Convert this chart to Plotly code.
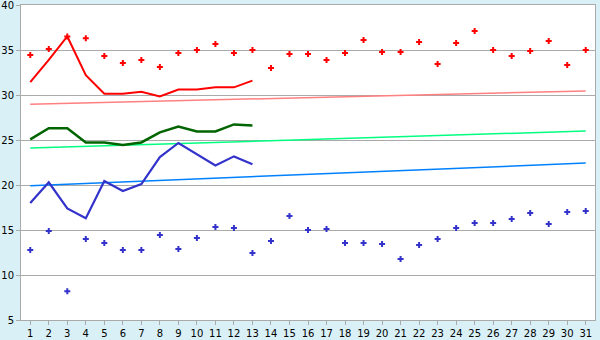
import plotly.graph_objects as go

days = list(range(1, 32))

red_pts = [34.44, 35.1, 36.5, 36.3, 34.33, 33.55, 33.9, 33.1, 34.67, 35.0,
           35.67, 34.67, 35.0, 33.0, 34.55, 34.55, 33.9, 34.67, 36.1, 34.78,
           34.78, 35.89, 33.44, 35.78, 37.1, 35.0, 34.33, 34.89, 36.0, 33.33, 35.0]
blue_pts = [12.78, 14.9, 8.2, 14.0, 13.55, 12.78, 12.78, 14.44, 12.89, 14.11,
            15.33, 15.22, 12.44, 13.78, 16.55, 15.0, 15.11, 13.55, 13.55, 13.44,
            11.78, 13.33, 14.0, 15.22, 15.78, 15.78, 16.22, 16.89, 15.67, 17.0, 17.11]

line_days = list(range(1, 14))
red_line = [31.44, 33.9, 36.5, 32.2, 30.15, 30.15, 30.37, 29.85, 30.6, 30.6, 30.85, 30.85, 31.6]
green_line = [25.07, 26.3, 26.3, 24.73, 24.73, 24.44, 24.73, 25.85, 26.5, 25.95, 25.95, 26.73, 26.62]
blue_line = [18.0, 20.3, 17.4, 16.3, 20.45, 19.33, 20.1, 23.1, 24.67, 23.4, 22.18, 23.18, 22.3]

trend_days = [1, 31]
pink_trend = [28.97, 30.45]
lgreen_trend = [24.1, 26.0]
lblue_trend = [19.92, 22.44]

y_ticks = [5, 10, 15, 20, 25, 30, 35, 40]

fig = go.Figure()
fig.add_trace(go.Scatter(x=trend_days, y=pink_trend, mode="lines", line=dict(color="#ff8080", width=1.5)))
fig.add_trace(go.Scatter(x=trend_days, y=lgreen_trend, mode="lines", line=dict(color="#00ff80", width=1.5)))
fig.add_trace(go.Scatter(x=trend_days, y=lblue_trend, mode="lines", line=dict(color="#0080ff", width=1.5)))
fig.add_trace(go.Scatter(x=line_days, y=red_line, mode="lines", line=dict(color="#ff0000", width=2)))
fig.add_trace(go.Scatter(x=line_days, y=green_line, mode="lines", line=dict(color="#006400", width=2.5)))
fig.add_trace(go.Scatter(x=line_days, y=blue_line, mode="lines", line=dict(color="#3333cc", width=2.2)))
fig.add_trace(go.Scatter(x=days, y=red_pts, mode="markers",
                         marker=dict(symbol="cross", size=5, color="#ff0000")))
fig.add_trace(go.Scatter(x=days, y=blue_pts, mode="markers",
                         marker=dict(symbol="cross", size=5, color="#3333cc")))

fig.update_layout(
    width=600, height=340,
    margin=dict(l=21, r=5, t=5, b=20),
    paper_bgcolor="#d9f0f7", plot_bgcolor="#ffffff",
    showlegend=False,
    font=dict(family="DejaVu Sans", size=10, color="#000000"),
)
fig.update_xaxes(range=[0.5, 31.5], tickmode="array", tickvals=days, ticktext=[str(d) for d in days],
                 showgrid=False, showline=True, linecolor="#aaaaaa", linewidth=1, mirror=True,
                 ticks="outside", ticklen=4, tickcolor="#aaaaaa", zeroline=False,
                 automargin=False)
fig.update_yaxes(range=[5, 40], tickmode="array", tickvals=y_ticks,
                 showgrid=True, gridcolor="#aaaaaa", gridwidth=1,
                 showline=True, linecolor="#aaaaaa", linewidth=1, mirror=True,
                 ticks="outside", ticklen=4, tickcolor="#aaaaaa", zeroline=False,
                 ticklabeloverflow="allow", automargin=False)

fig.write_html("out.html")
